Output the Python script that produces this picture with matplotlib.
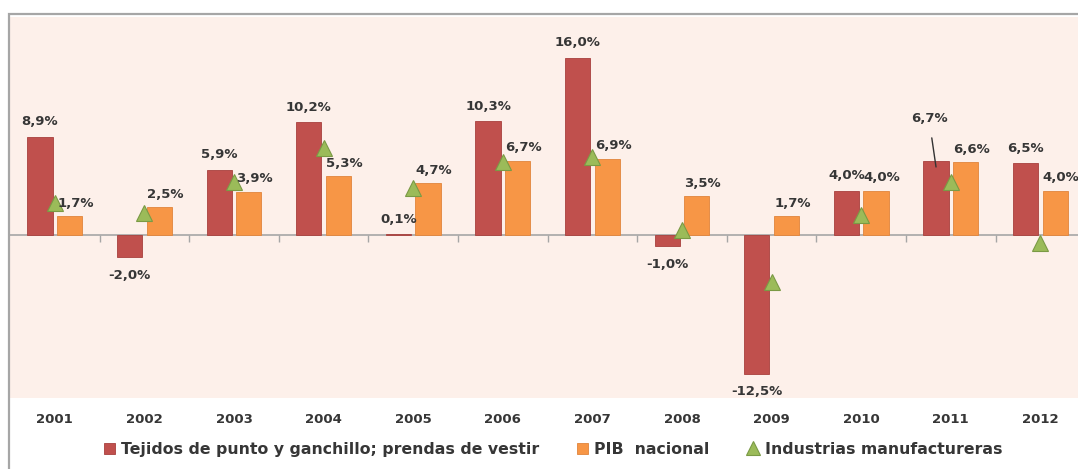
import numpy as np
import matplotlib.pyplot as plt
from matplotlib.patches import Rectangle
from matplotlib.transforms import ScaledTranslation

years = ["2001", "2002", "2003", "2004", "2005", "2006",
         "2007", "2008", "2009", "2010", "2011", "2012"]
tejidos = [8.9, -2.0, 5.9, 10.2, 0.1, 10.3, 16.0, -1.0, -12.5, 4.0, 6.7, 6.5]
pib = [1.7, 2.5, 3.9, 5.3, 4.7, 6.7, 6.9, 3.5, 1.7, 4.0, 6.6, 4.0]
industrias = [2.9, 2.0, 4.8, 7.9, 4.3, 6.6, 7.1, 0.5, -4.2, 1.8, 4.8, -0.7]

names = ["Tejidos de punto y ganchillo; prendas de vestir",
         "PIB  nacional", "Industrias manufactureras"]

c_red = "#C0504D"
c_orange = "#F79646"
c_green = "#9BBB59"
c_text = "#363636"

plt.rcParams['font.family'] = ['DejaVu Sans']
plt.rcParams['font.weight'] = 'bold'

W, H = 1078, 469
fig = plt.figure(figsize=[W / 100, H / 100], dpi=100)
ax = fig.add_axes([10 / W, 71 / H, 1075.2 / W, 381 / H])
ax.set_facecolor("#FDF0EA")

x = np.arange(len(years))
bw = 0.28
off = 0.165
bars_red = ax.bar(x - off, tejidos, bw, color=c_red, edgecolor="#A8403D",
                  linewidth=0.6, label=names[0], zorder=2)
bars_or = ax.bar(x + off, pib, bw, color=c_orange, edgecolor="#E0843C",
                 linewidth=0.6, label=names[1], zorder=2)
tri, = ax.plot(x, industrias, linestyle="none", marker="^", markersize=12,
               markerfacecolor=c_green, markeredgecolor="#7A9A45",
               markeredgewidth=0.8, label=names[2], zorder=3)

ax.set_xlim(-0.5, 11.5)
ax.set_ylim(-14.7, 19.7)
ax.axhline(0, color="#A6A6A6", linewidth=1.2, zorder=1)

# marcas entre categorias sobre la linea del cero
sec = ax.secondary_xaxis(0, transform=ax.transData)
sec.spines['bottom'].set_visible(False)
sec.set_xticks(x[:-1] + 0.5)
sec.tick_params(axis='x', length=5, width=1, color="#A6A6A6",
                labelbottom=False)

for s in ax.spines.values():
    s.set_visible(False)
ax.set_yticks([])
ax.set_xticks(x)
ax.set_xticklabels(years, fontsize=9.5, color=c_text)
ax.tick_params(axis='x', length=0, pad=11)

def fmt(v):
    return ("%.1f%%" % v).replace(".", ",")

for i, v in enumerate(tejidos):
    if i == 10:
        # etiqueta con linea guia
        inside = ax.transData + ScaledTranslation(0, -0.06, fig.dpi_scale_trans)
        ax.annotate(fmt(v), xy=(x[i] - off, v), xycoords=inside,
                    xytext=(-7, 48), textcoords="offset pixels",
                    ha="center", va="center", fontsize=9.5, color=c_text,
                    arrowprops=dict(arrowstyle="-", color="#333333", lw=1,
                                    shrinkA=7, shrinkB=0), zorder=4)
        continue
    dy = 15 if v >= 0 else -18
    ax.annotate(fmt(v), xy=(x[i] - off, v), xytext=(0, dy),
                textcoords="offset pixels", ha="center", va="center",
                fontsize=9.5, color=c_text, zorder=4)

for i, v in enumerate(pib):
    ax.annotate(fmt(v), xy=(x[i] + off, v), xytext=(6, 13),
                textcoords="offset pixels", ha="center", va="center",
                fontsize=9.5, color=c_text, zorder=4)

# marco exterior del grafico
fig.patches.append(Rectangle((9 / W, -0.05), 1.2, (469 - 14) / H + 0.05,
                             transform=fig.transFigure, fill=False,
                             edgecolor="#A6A6A6", linewidth=1.6))

fig.legend(handles=[bars_red, bars_or, tri], labels=names, ncol=3,
           loc="center", bbox_to_anchor=(553 / W, 20 / H), frameon=False,
           fontsize=11.3, labelcolor=c_text, handlelength=0.7,
           handleheight=0.7, handletextpad=0.4, columnspacing=2.4,
           markerscale=0.85, borderpad=0)

fig.savefig("out.png", dpi=100)
